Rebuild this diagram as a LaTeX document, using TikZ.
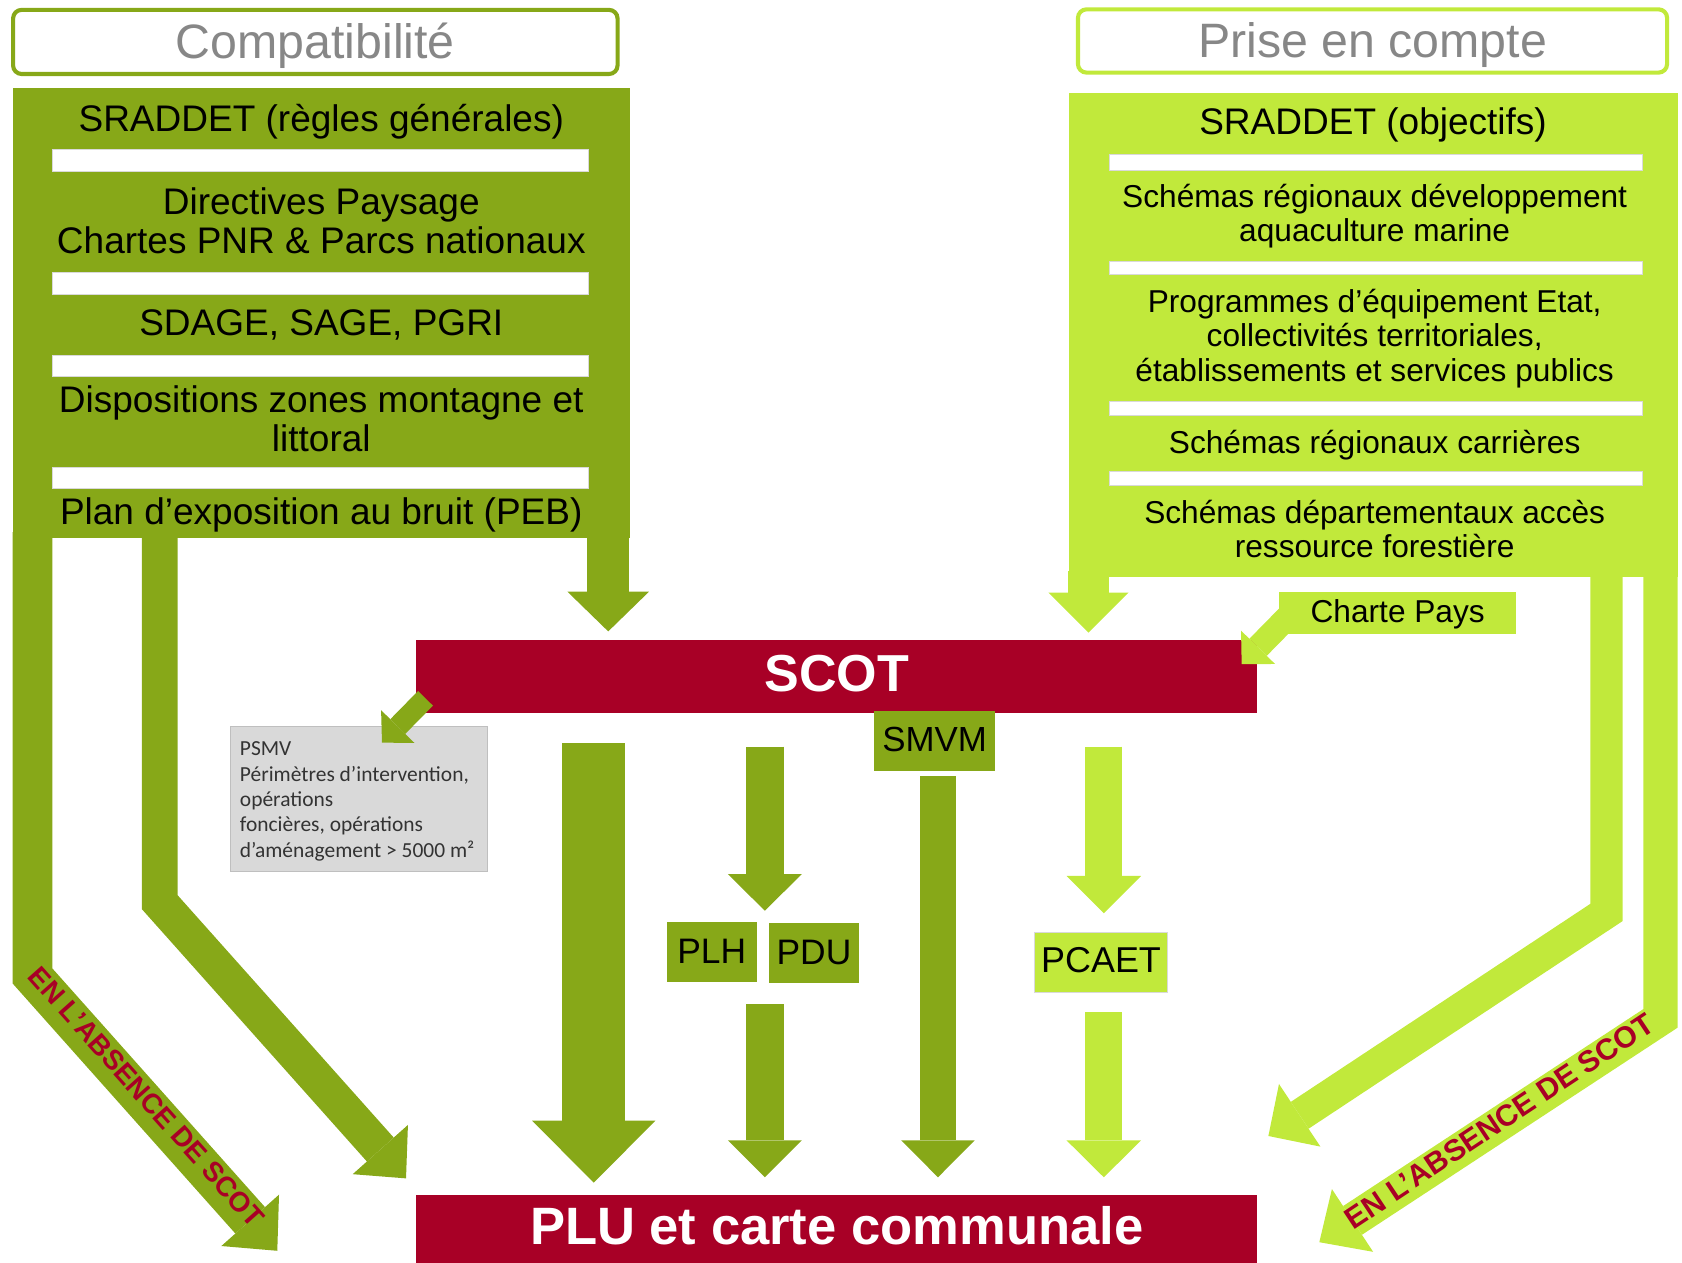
\documentclass[tikz,border=0pt]{standalone}
\usepackage{fontspec}
\setmainfont{Liberation Sans}
\newfontfamily\calibfont{Carlito}
\usetikzlibrary{arrows.meta}
\definecolor{dg}{RGB}{135,168,24}
\definecolor{lg}{RGB}{193,233,59}
\definecolor{rd}{RGB}{168,0,38}
\definecolor{tgray}{RGB}{135,135,135}
\definecolor{boxgray}{RGB}{217,217,217}
\definecolor{boxline}{RGB}{191,191,191}
\tikzset{
  titlebox/.style={draw=#1, line width=3.8pt, rounded corners=8pt, fill=white, inner sep=0pt, text=tgray, font=\fontsize{45}{50}\selectfont},
  plainbox/.style={fill=#1, draw=none, inner sep=0pt},
  bar/.style={fill=white, draw=black!15, line width=0.5pt},
  blocktxt/.style={anchor=base, inner sep=0pt, font=\fontsize{34.5}{36}\selectfont},
  blocktxts/.style={anchor=base, inner sep=0pt, font=\fontsize{29.5}{32}\selectfont},
  capht/.style={text height=#1, text depth=0pt},
  fatarrow/.style n args={4}{draw=#1, line width=#2, line join=miter, line cap=butt, -{Triangle[width=#3,length=#4,line width=0pt]}},
  absence/.style={text=rd, font=\bfseries\fontsize{#1}{#1}\selectfont, inner sep=0pt},
}
\begin{document}
\begin{tikzpicture}[x=1pt,y=-1pt]
\useasboundingbox (0,0) rectangle (1568,1177);

% titles
\node[titlebox=dg, minimum width=563.5pt, minimum height=59.8pt, capht=31.6pt] (compat) at (293.95,39.1) {Compatibilité};
\node[titlebox=lg, minimum width=549.2pt, minimum height=59pt, capht=30.2pt] (prise) at (1279.5,38.2) {Prise en compte};

% blocks
\node[plainbox=dg, minimum width=575.2pt, minimum height=419pt, anchor=north west] (lblock) at (11.6,82) {};
\node[plainbox=lg, minimum width=568pt, minimum height=450.5pt, anchor=north west] (rblock) at (996,86.8) {};

% arrows leaving the blocks
\coordinate (l1s) at (30.3,496);   \coordinate (l1b) at (30.3,909.8);  \coordinate (l1t) at (258.5,1166);
\coordinate (l2s) at (148.9,496);  \coordinate (l2b) at (148.9,841);   \coordinate (l2t) at (378.5,1098.5);
\coordinate (l3s) at (567,496);    \coordinate (l3t) at (567,588.6);
\coordinate (r1s) at (1014.7,532); \coordinate (r1t) at (1014.7,589.8);
\coordinate (r2s) at (1497.6,532); \coordinate (r2b) at (1497.6,850.6); \coordinate (r2t) at (1182.4,1059);
\coordinate (r3s) at (1548,532);   \coordinate (r3b) at (1548,949.3);   \coordinate (r3t) at (1229.9,1158);
\draw[fatarrow={dg}{37pt}{72pt}{38pt}] (l1s) -- (l1b) -- (l1t);
\draw[fatarrow={dg}{33.5pt}{69pt}{36pt}] (l2s) -- (l2b) -- (l2t);
\draw[fatarrow={dg}{39.5pt}{76pt}{37pt}] (l3s) -- (l3t);
\draw[fatarrow={lg}{37.5pt}{74.6pt}{37.3pt}] (r1s) -- (r1t);
\draw[fatarrow={lg}{30pt}{70pt}{35pt}] (r2s) -- (r2b) -- (r2t);
\draw[fatarrow={lg}{32pt}{70pt}{37pt}] (r3s) -- (r3b) -- (r3t);

% white separators
\draw[bar] (48.7,139.2) rectangle (548,159.8);
\draw[bar] (48.7,253.6) rectangle (548,274.7);
\draw[bar] (48.7,331.3) rectangle (548,350.6);
\draw[bar] (48.7,435.2) rectangle (548,455.5);
\draw[bar] (1034,143.8) rectangle (1530.8,158.3);
\draw[bar] (1034,243.5) rectangle (1530.8,256.1);
\draw[bar] (1034,374) rectangle (1530.8,387.3);
\draw[bar] (1034,439.5) rectangle (1530.8,452.8);

% left block texts
\node[blocktxt] (l1) at (299.5,122.5) {SRADDET (règles générales)};
\node[blocktxt] (l2) at (299.5,199.8) {Directives Paysage};
\node[blocktxt] (l3) at (299.5,236.4) {Chartes PNR \& Parcs nationaux};
\node[blocktxt] (l4) at (299.5,313) {SDAGE, SAGE, PGRI};
\node[blocktxt] (l5) at (299.5,384.5) {Dispositions zones montagne et};
\node[blocktxt] (l6) at (299.5,421.2) {littoral};
\node[blocktxt] (l7) at (299.5,489.4) {Plan d’exposition au bruit (PEB)};

% right block texts
\node[blocktxt] (r1) at (1280,125.6) {SRADDET (objectifs)};
\node[blocktxts] (r2) at (1281.5,193.3) {Schémas régionaux développement};
\node[blocktxts] (r3) at (1281.5,225.3) {aquaculture marine};
\node[blocktxts] (r4) at (1281.5,291.1) {Programmes d’équipement Etat,};
\node[blocktxts] (r5) at (1281.5,323.4) {collectivités territoriales,};
\node[blocktxts] (r6) at (1281.5,355.8) {établissements et services publics};
\node[blocktxts] (r7) at (1281.5,422.4) {Schémas régionaux carrières};
\node[blocktxts] (r8) at (1281.5,487.8) {Schémas départementaux accès};
\node[blocktxts] (r9) at (1281.5,519.4) {ressource forestière};

% SCOT and PLU
\node[plainbox=rd, minimum width=784pt, minimum height=68pt, capht=28.8pt, text=white, font=\bfseries\fontsize{48.5}{50}\selectfont] (scot) at (780,630.4) {SCOT};
\node[plainbox=rd, minimum width=784pt, minimum height=63pt, capht=28.4pt, text=white, font=\bfseries\fontsize{49}{50}\selectfont] (plu) at (780,1145.5) {PLU et carte communale};

% PSMV
\node[draw=boxline, fill=boxgray, line width=0.8pt, minimum width=239.3pt, minimum height=134.6pt, inner sep=0pt] (psmv) at (334.65,744.7) {};
\node[anchor=north west, inner sep=0pt, align=left, text=black!80, font=\calibfont\fontsize{20}{23.6}\selectfont] (psmvtxt) at (223.5,691.4) {PSMV\\Périmètres d’intervention,\\opérations\\foncières, opérations\\d’aménagement > 5000 m²};
\coordinate (ps1) at (396.65,651); \coordinate (ps2) at (356.1,692.3);
\draw[fatarrow={dg}{19.5pt}{43.6pt}{21pt}] (ps1) -- (ps2);

% central arrows
\coordinate (c1s) at (553.5,693);    \coordinate (c1t) at (553.5,1102.5);
\coordinate (c2s) at (713,696);      \coordinate (c2t) at (713,849);
\coordinate (c3s) at (713,936.3);    \coordinate (c3t) at (713,1097.5);
\coordinate (c4s) at (874.4,723.4);  \coordinate (c4t) at (874.4,1097.5);
\coordinate (c5s) at (1029,696);     \coordinate (c5t) at (1029,851.4);
\coordinate (c6s) at (1029,943.7);   \coordinate (c6t) at (1029,1097.5);
\draw[fatarrow={dg}{58.3pt}{115pt}{57.8pt}] (c1s) -- (c1t);
\draw[fatarrow={dg}{35pt}{69pt}{34.2pt}] (c2s) -- (c2t);
\draw[fatarrow={dg}{35pt}{69pt}{34.5pt}] (c3s) -- (c3t);
\draw[fatarrow={dg}{34.2pt}{68.5pt}{34.5pt}] (c4s) -- (c4t);
\draw[fatarrow={lg}{34.8pt}{69.5pt}{34.8pt}] (c5s) -- (c5t);
\draw[fatarrow={lg}{34.8pt}{69.6pt}{34.5pt}] (c6s) -- (c6t);

% small boxes
\node[plainbox=dg, minimum width=113.5pt, minimum height=56pt, capht=18.6pt, font=\fontsize{32.5}{34}\selectfont] (smvm) at (871.25,690.8) {SMVM};
\node[plainbox=dg, minimum width=83.5pt, minimum height=56pt, capht=20.4pt, font=\fontsize{33}{34}\selectfont] (plh) at (663.55,887.8) {PLH};
\node[plainbox=dg, minimum width=84.6pt, minimum height=55.9pt, capht=20.5pt, font=\fontsize{33}{34}\selectfont] (pdu) at (758.8,888.75) {PDU};
\node[plainbox=lg, draw=black!15, line width=0.5pt, minimum width=124.2pt, minimum height=55.9pt, capht=19.5pt, font=\fontsize{33.5}{34}\selectfont] (pcaet) at (1026.4,897.05) {PCAET};

% Charte Pays
\coordinate (cp1) at (1202.15,573.5); \coordinate (cp2) at (1157.5,619);
\draw[fatarrow={lg}{22.7pt}{44.4pt}{21.8pt}] (cp1) -- (cp2);
\node[plainbox=lg, minimum width=220.7pt, minimum height=39.4pt, capht=18.4pt, font=\fontsize{29.5}{31}\selectfont] (charte) at (1302.95,571.3) {Charte Pays};

% labels on the bypass arrows
\node[absence=26, rotate=-48.3] (abs1) at (136.5,1022.5) {EN L’ABSENCE DE SCOT};
\node[absence=28, rotate=33.6] (abs2) at (1397.5,1045) {EN L’ABSENCE DE SCOT};
\end{tikzpicture}
\end{document}
